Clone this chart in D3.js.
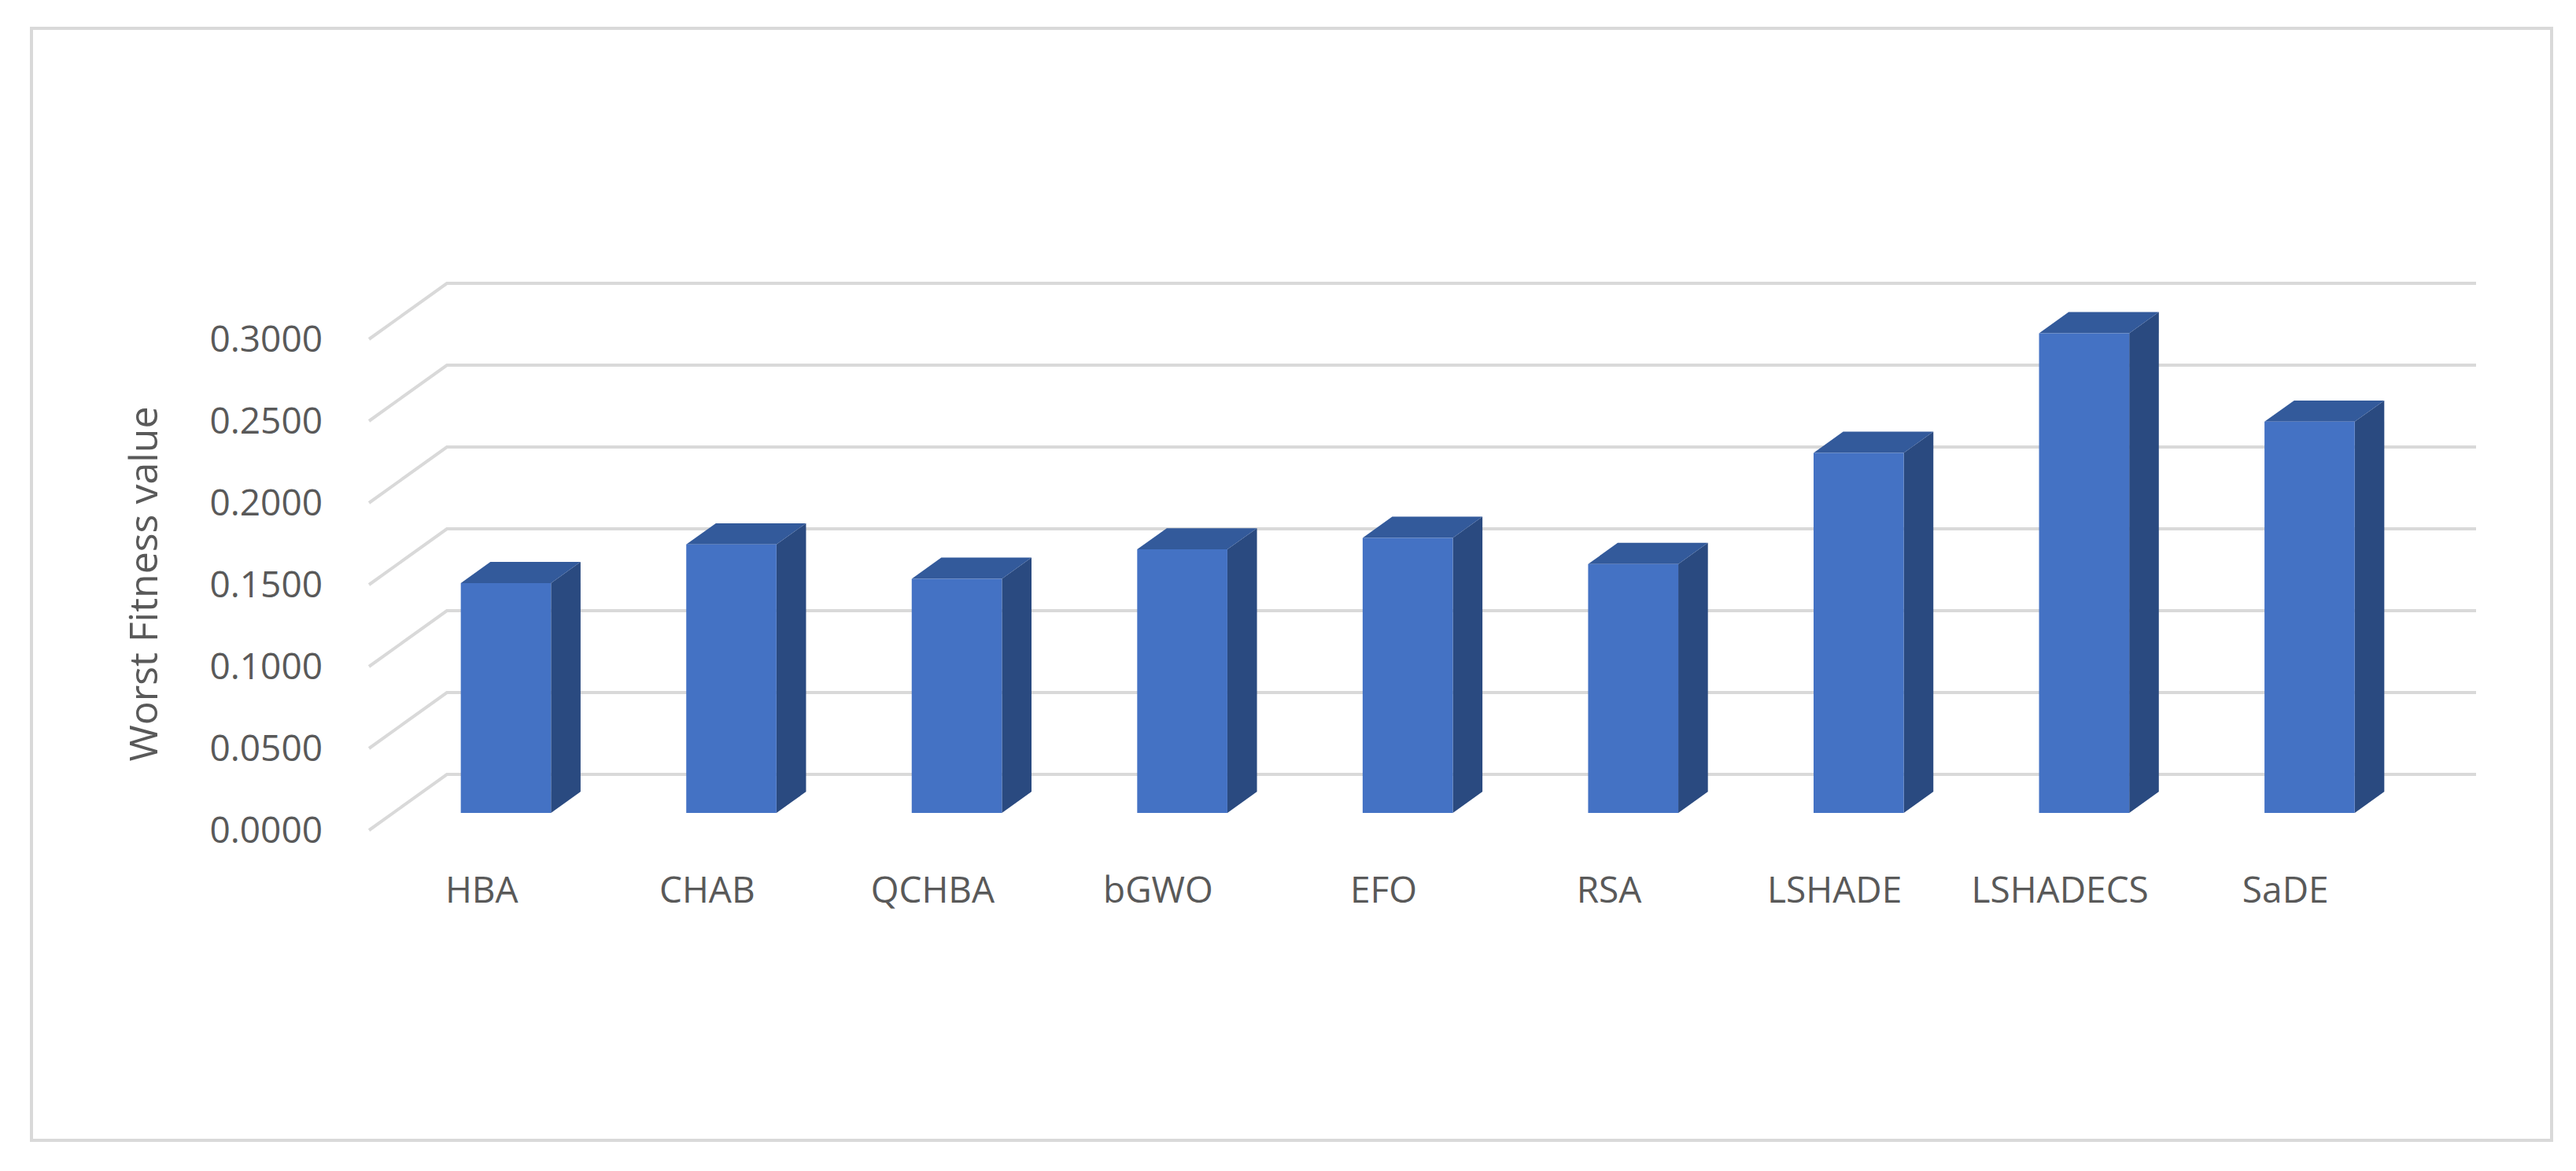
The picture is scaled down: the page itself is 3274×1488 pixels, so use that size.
<!DOCTYPE html>
<html>
<head>
<meta charset="utf-8">
<script src="https://cdn.jsdelivr.net/npm/d3@7"></script>
<style>
  body { margin: 0; background: #fff; }
  text { font-family: "Open Sans", "DejaVu Sans", sans-serif; fill: #595959; }
</style>
</head>
<body>
<svg id="chart"></svg>
<script>
const categories = ["HBA", "CHAB", "QCHBA", "bGWO", "EFO", "RSA", "LSHADE", "LSHADECS", "SaDE"];
const values = [0.1404, 0.1640, 0.1430, 0.1610, 0.1680, 0.1520, 0.2200, 0.2930, 0.2390];
const yTicks = [0, 0.05, 0.1, 0.15, 0.2, 0.25, 0.3];

const width = 3274, height = 1488;
const depthX = 99, depthY = -71;         // full floor depth offset
const barZ0 = 0.31, barZ1 = 0.69;        // bar front/back depth fraction

const svg = d3.select("#chart").attr("width", width).attr("height", height);

svg.append("rect")
  .attr("x", 40).attr("y", 36).attr("width", 3203).attr("height", 1413)
  .attr("fill", "white").attr("stroke", "#d9d9d9").attr("stroke-width", 4);

const x = d3.scaleBand().domain(categories).range([469, 3048])
  .paddingInner(0.6).paddingOuter(0.3);
const y = d3.scaleLinear().domain([0, 0.3]).range([1055, 431]);

const px = (xv, z) => xv + depthX * z;
const py = (v, z) => y(v) + depthY * z;

// gridlines: diagonal side wall + back wall
const grid = svg.append("g").attr("stroke", "#d9d9d9").attr("stroke-width", 4).attr("fill", "none");
yTicks.forEach(t => {
  grid.append("path").attr("d", d3.line()([
    [469, py(t, 0)], [px(469, 1), py(t, 1)], [3147, py(t, 1)]
  ]));
});

// tick labels
svg.append("g").selectAll("text").data(yTicks).join("text")
  .attr("x", 410).attr("y", d => y(d)).attr("dy", "0.35em")
  .attr("text-anchor", "end").style("font-size", "46px")
  .text(d => d3.format(".4f")(d));

// axis title
svg.append("text")
  .attr("transform", "translate(182,742) rotate(-90)")
  .attr("text-anchor", "middle").attr("dy", "0.35em")
  .style("font-size", "50px")
  .text("Worst Fitness value");

// bars
const bars = svg.append("g").selectAll("g").data(categories).join("g");
bars.each(function(c, i) {
  const g = d3.select(this);
  const x0 = x(c), x1 = x(c) + x.bandwidth(), v = values[i];
  const poly = pts => d3.line()(pts) + "Z";
  // side
  g.append("path").attr("fill", "#2a4a80").attr("d", poly([
    [px(x1, barZ0), py(0, barZ0)], [px(x1, barZ1), py(0, barZ1)],
    [px(x1, barZ1), py(v, barZ1)], [px(x1, barZ0), py(v, barZ0)]
  ]));
  // top
  g.append("path").attr("fill", "#335a9b").attr("d", poly([
    [px(x0, barZ0), py(v, barZ0)], [px(x1, barZ0), py(v, barZ0)],
    [px(x1, barZ1), py(v, barZ1)], [px(x0, barZ1), py(v, barZ1)]
  ]));
  // front
  g.append("path").attr("fill", "#4472c4").attr("d", poly([
    [px(x0, barZ0), py(0, barZ0)], [px(x1, barZ0), py(0, barZ0)],
    [px(x1, barZ0), py(v, barZ0)], [px(x0, barZ0), py(v, barZ0)]
  ]));
});

// category labels
svg.append("g").selectAll("text").data(categories).join("text")
  .attr("x", d => x(d) + x.bandwidth() / 2).attr("y", 1131).attr("dy", "0.35em")
  .attr("text-anchor", "middle").style("font-size", "46px")
  .text(d => d);
</script>
</body>
</html>
